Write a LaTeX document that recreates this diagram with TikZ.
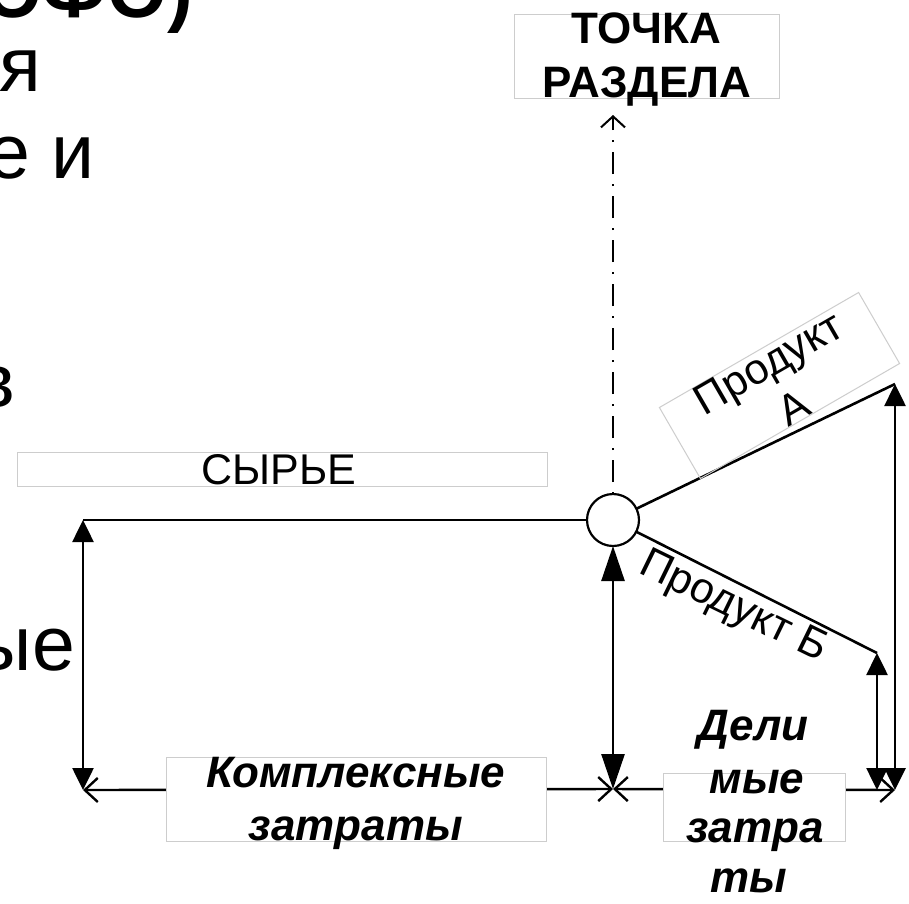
\documentclass[tikz,border=0pt]{standalone}
\usepackage{fontspec}
\setmainfont{Liberation Sans}
\usetikzlibrary{arrows.meta}
\definecolor{boxgray}{RGB}{205,205,205}
\begin{document}
\begin{tikzpicture}[x=1pt,y=-1pt,
  every node/.style={inner sep=0pt, outer sep=0pt},
  graybox/.style={draw=boxgray, line width=1pt, fill=white},
  grayframe/.style={draw=boxgray, line width=1pt},
  heavy/.style={line width=2.6pt},
  tri/.tip={Triangle[length=22pt,width=21pt]},
  trilong/.tip={Triangle[length=35pt,width=23pt]},
  barb/.tip={Straight Barb[length=13pt,width=24pt]},
  dimv/.style={heavy, tri-tri},
  dimvlong/.style={heavy, trilong-trilong},
  dimh/.style={line width=2.4pt, barb-barb},
  dashdot/.style={line width=2pt, dash pattern=on 2pt off 10pt on 22pt off 10pt, -{Straight Barb[length=11pt,width=24pt]}},
  fragfont/.style={font=\fontsize{77}{80}\selectfont},
  bigfont/.style={font=\fontsize{43}{50}\selectfont},
  prodfont/.style={font=\fontsize{43}{52}\selectfont},
  boldfont/.style={font=\bfseries\fontsize{44}{50}\selectfont},
  bifont/.style={font=\bfseries\itshape\fontsize{44}{50}\selectfont}
]
\useasboundingbox (0,0) rectangle (909,903);
\fill[white] (0,0) rectangle (909,903);
\clip (0,0) rectangle (909,903);

% cut-off slide text on the left
\node[font=\bfseries\fontsize{77}{80}\selectfont, anchor=base east] (frag1) at (193,17) {ЭФО)};
\node[fragfont, anchor=base east] (frag2) at (41,91) {я};
\node[fragfont, anchor=base east] (frag3) at (95,178) {е и};
\node[fragfont, anchor=base east] (frag4) at (15,407) {в};
\node[fragfont, anchor=base east] (frag5) at (75,670) {ые};

% labels at top
\node[grayframe, minimum width=530pt, minimum height=34pt] (rawbox) at (282,469) {};
\node[bigfont, anchor=base] (rawtxt) at (279,484) {СЫРЬЕ};
\node[grayframe, minimum width=265pt, minimum height=84pt] (splitbox) at (646.5,56) {};
\node[boldfont, anchor=base] (splittxt1) at (646,43) {ТОЧКА};
\node[boldfont, anchor=base] (splittxt2) at (647,97) {РАЗДЕЛА};

% split point
\node[circle, draw, fill=white, line width=2.2pt, minimum size=52pt] (split) at (613,520) {};
\coordinate (L0) at (83,520);
\coordinate (Aend) at (895,384);
\coordinate (Bend) at (877,653);
\coordinate (Ptop) at (613,115);
\coordinate (LB) at (83,790);
\coordinate (CB) at (613,789);
\coordinate (RB) at (895,790);
\coordinate (IB) at (877,790);

\draw[heavy] (L0) -- (split.west);
\draw[heavy] (split) -- (Aend);
\draw[heavy] (split) -- (Bend);
\draw[dashdot] (split.north) -- (Ptop);

% dimension arrows
\draw[dimv] (LB) -- (L0);
\draw[dimvlong] (CB) -- (split.south);
\draw[dimv] (RB) -- (Aend);
\draw[dimv] (IB) -- (Bend);
\draw[dimh] (LB) -- (CB);
\draw[dimh] (CB) -- (RB);

% cost labels
\node[graybox, minimum width=380pt, minimum height=84pt] (jointbox) at (356,799) {};
\node[bifont, anchor=base] (jointtxt1) at (356,787) {Комплексные};
\node[bifont, anchor=base] (jointtxt2) at (356,840) {затраты};
\node[graybox, minimum width=182pt, minimum height=68pt] (sepbox) at (754,807) {};
\node[bifont, anchor=base] (septxt1) at (753,740) {Дели};
\node[bifont, anchor=base] (septxt2) at (757,793) {мые};
\node[bifont, anchor=base] (septxt3) at (755,842) {затра};
\node[bifont, anchor=base] (septxt4) at (749,892) {ты};

% product labels
\node[grayframe, minimum width=230pt, minimum height=82pt, rotate=30] (prodAbox) at (779.5,385.5) {};
\node[prodfont, align=center, rotate=30] (prodAtxt) at (781,385) {Продукт\\А};
\node[prodfont, rotate=-26] (prodBtxt) at (733,608) {Продукт Б};
\end{tikzpicture}
\end{document}
